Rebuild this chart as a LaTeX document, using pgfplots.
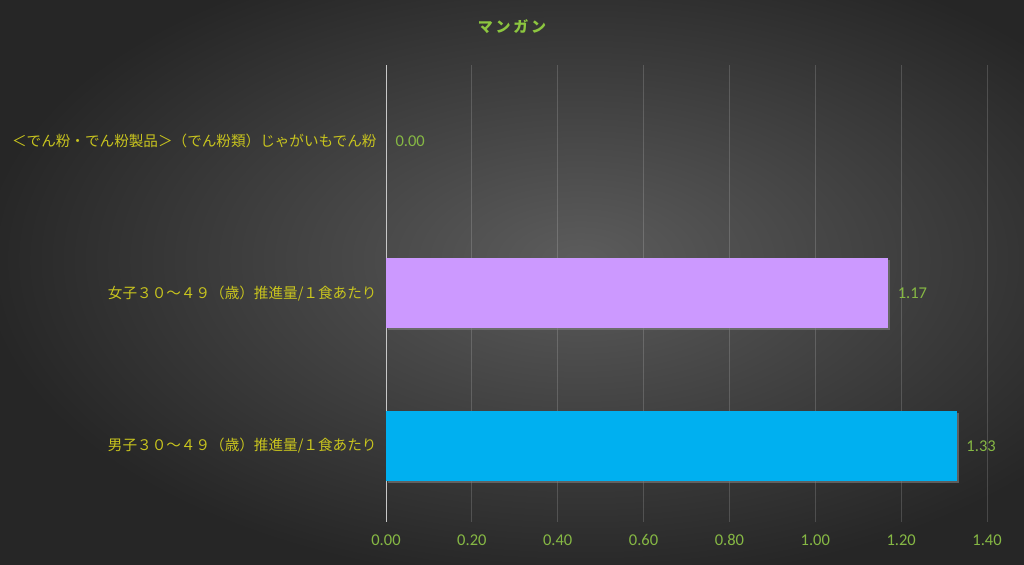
\documentclass[border=0pt]{standalone}
\usepackage{fontspec}
\setmainfont{Noto Sans CJK JP}
\newfontfamily\numfont{Carlito}
\usepackage{pgfplots}
\pgfplotsset{compat=1.18}
\usetikzlibrary{shadows}

\definecolor{bgin}{HTML}{5C5C5C}
\definecolor{bgout}{HTML}{262626}
\definecolor{titlegreen}{HTML}{8CC63F}
\definecolor{ticgreen}{HTML}{86B844}
\definecolor{catyellow}{HTML}{C8C41E}
\definecolor{lilac}{HTML}{CC99FF}
\definecolor{cyanbar}{HTML}{00B0F0}
\definecolor{zeroline}{HTML}{C8C8C8}

\begin{document}
\begin{tikzpicture}[x=1bp,y=1bp]
% background
\begin{scope}
\clip (0,0) rectangle (1024,565);
\shade[inner color=bgin, outer color=bgout] (-20,-20) rectangle (1180,630);
\end{scope}
\path (0,0) rectangle (1024,565);
\node[text=titlegreen, font=\fontsize{15bp}{17bp}\selectfont\bfseries\addfontfeature{LetterSpace=18}] at (512,538) {マンガン};

\begin{axis}[
    at={(386bp,43bp)}, anchor=south west,
    scale only axis,
    width=601bp, height=457bp,
    xbar, bar shift=0pt, bar width=70bp,
    xmin=0, xmax=1.4,
    ymin=-0.5, ymax=2.5,
    xtick={0,0.2,...,1.4},
    ytick={0,1,2},
    yticklabels={男子３０～４９（歳）推進量/１食あたり,
                 女子３０～４９（歳）推進量/１食あたり,
                 ＜でん粉・でん粉製品＞（でん粉類）じゃがいもでん粉},
    axis lines*=left,
    x axis line style={draw=none},
    y axis line style={draw=zeroline, line width=1bp, -},
    major tick length=0pt,
    xmajorgrids=true,
    grid style={draw=white, draw opacity=0.16, line width=0.9bp},
    clip=false,
    xticklabel style={text=ticgreen, font=\numfont\fontsize{16.5bp}{18bp}\selectfont,
        text height=1.5ex, text depth=0pt, yshift=-12bp,
        /pgf/number format/fixed, /pgf/number format/fixed zerofill,
        /pgf/number format/precision=2},
    yticklabel style={text=catyellow, font=\fontsize{14.6bp}{17bp}\selectfont, xshift=-6bp},
    /pgf/number format/assume math mode=true,
    nodes near coords,
    nodes near coords style={text=ticgreen, font=\numfont\fontsize{16.5bp}{18bp}\selectfont, xshift=6bp,
        /pgf/number format/fixed, /pgf/number format/fixed zerofill,
        /pgf/number format/precision=2},
]
\addplot[fill=cyanbar, draw=none, drop shadow={shadow xshift=2bp, shadow yshift=-2bp, opacity=0.6}]
    coordinates {(1.33,0)};
\addplot[fill=lilac, draw=none, drop shadow={shadow xshift=2bp, shadow yshift=-2bp, opacity=0.6}]
    coordinates {(1.17,1)};
\addplot[fill=none, draw=none]
    coordinates {(0,2)};
\end{axis}
\end{tikzpicture}
\end{document}
